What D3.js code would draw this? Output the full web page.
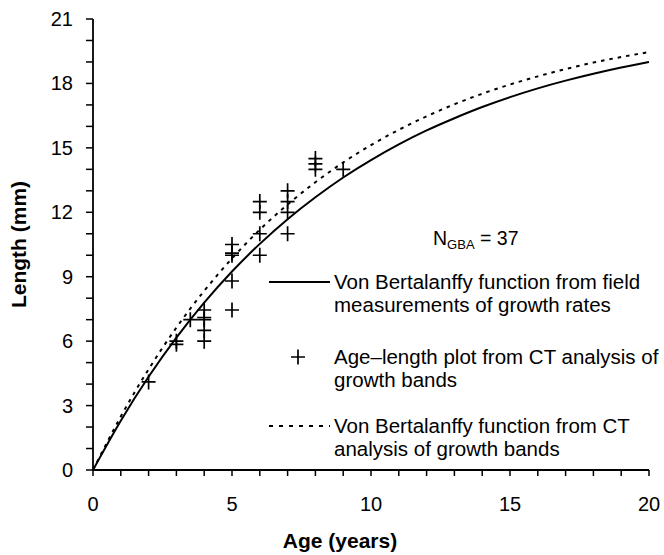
<!DOCTYPE html>
<html>
<head>
<meta charset="utf-8">
<script src="https://cdn.jsdelivr.net/npm/d3@7"></script>
<style>
  html, body { margin: 0; padding: 0; background: #fff; }
  svg { display: block; font-family: "Liberation Sans", Arial, sans-serif; }
</style>
</head>
<body>
<svg id="chart" width="664" height="555"></svg>
<script>
// ---- data ----
const ageGrid = [0,1,2,3,4,5,6,7,8,9,10,11,12,13,14,15,16,17,18,19,20];
const fieldCurve = [0,2.29,4.34,6.16,7.79,9.24,10.53,11.68,12.70,13.62,14.43,15.16,15.81,16.38,16.90,17.36,17.77,18.13,18.45,18.74,19.00];
const ctCurve = [0,2.49,4.69,6.63,8.34,9.85,11.19,12.36,13.40,14.32,15.13,15.84,16.47,17.03,17.52,17.95,18.33,18.67,18.97,19.23,19.46];
const obsAge = [2, 3, 3, 3.5, 4, 4, 4, 4, 4, 5, 5, 5, 5, 5, 6, 6, 6, 6, 7, 7, 7, 7, 8, 8, 8, 9];
const obsLength = [4.1, 5.85, 6.0, 7.0, 7.45, 7.0, 7.1, 6.5, 6.0, 10.5, 10.0, 10.1, 8.8, 7.45, 12.5, 12.0, 11.0, 10.0, 13.0, 12.5, 12.0, 11.0, 14.5, 14.25, 14.0, 14.0];
const xTicks = [0, 5, 10, 15, 20];
const yTicks = [0, 3, 6, 9, 12, 15, 18, 21];
const legendLabels = [
  ["Von Bertalanffy function from field", "measurements of growth rates"],
  ["Age\u2013length plot from CT analysis of", "growth bands"],
  ["Von Bertalanffy function from CT", "analysis of growth bands"]
];
const xTitle = "Age (years)";
const yTitle = "Length (mm)";

// ---- layout ----
const svg = d3.select("#chart");
const x = d3.scaleLinear().domain([0, 20]).range([93, 649]);
const y = d3.scaleLinear().domain([0, 21]).range([470, 19]);

const axisColor = "#000";

// X axis
const gx = svg.append("g").attr("transform", `translate(0,${y(0)})`);
gx.append("line").attr("x1", x(0)).attr("x2", x(20)).attr("stroke", axisColor).attr("stroke-width", 1.8);
gx.selectAll("line.tk").data(d3.range(0, 21, 1)).join("line")
  .attr("class", "tk")
  .attr("x1", d => x(d)).attr("x2", d => x(d))
  .attr("y1", 0).attr("y2", 6)
  .attr("stroke", axisColor).attr("stroke-width", 1.5);
gx.selectAll("text").data(xTicks).join("text")
  .attr("x", d => x(d)).attr("y", 41)
  .attr("text-anchor", "middle")
  .attr("font-size", 20)
  .text(d => d);

// Y axis
const gy = svg.append("g").attr("transform", `translate(${x(0)},0)`);
gy.append("line").attr("y1", y(0)).attr("y2", y(21)).attr("stroke", axisColor).attr("stroke-width", 1.8);
gy.selectAll("line.tk").data(d3.range(0, 22, 1)).join("line")
  .attr("class", "tk")
  .attr("y1", d => y(d)).attr("y2", d => y(d))
  .attr("x1", 0).attr("x2", -7)
  .attr("stroke", axisColor).attr("stroke-width", 1.5);
gy.selectAll("text").data(yTicks).join("text")
  .attr("x", -20).attr("y", d => y(d))
  .attr("dy", "0.35em")
  .attr("text-anchor", "end")
  .attr("font-size", 20)
  .text(d => d);

// Titles
svg.append("text")
  .attr("x", 340).attr("y", 548)
  .attr("text-anchor", "middle")
  .attr("font-size", 21).attr("font-weight", "bold")
  .text(xTitle);
svg.append("text")
  .attr("transform", `translate(26,${(y(0) + y(21)) / 2}) rotate(-90)`)
  .attr("text-anchor", "middle")
  .attr("font-size", 21).attr("font-weight", "bold")
  .text(yTitle);

// Curves
const line = d3.line().curve(d3.curveNatural);
const fieldPts = ageGrid.map((a, i) => [x(a), y(fieldCurve[i])]);
const ctPts = ageGrid.map((a, i) => [x(a), y(ctCurve[i])]);
svg.append("path").attr("d", line(ctPts))
  .attr("fill", "none").attr("stroke", "#000").attr("stroke-width", 2)
  .attr("stroke-dasharray", "3.5,5");
svg.append("path").attr("d", line(fieldPts))
  .attr("fill", "none").attr("stroke", "#000").attr("stroke-width", 2);

// Crosses
const cross = "M-7,0H7M0,-7.5V7.5";
svg.append("g").selectAll("path").data(obsAge.map((a, i) => [a, obsLength[i]])).join("path")
  .attr("transform", d => `translate(${x(d[0])},${y(d[1])})`)
  .attr("d", cross)
  .attr("fill", "none").attr("stroke", "#000").attr("stroke-width", 1.7);

// Sample size annotation
const ann = svg.append("text").attr("x", 433).attr("y", 245).attr("font-size", 19.5);
ann.append("tspan").text("N");
ann.append("tspan").attr("font-size", 13).attr("dy", 4).text("GBA");
ann.append("tspan").attr("dy", -4).text(" = 37");

// Legend
const legY = [282, 357, 426];
const lg = svg.append("g");
lg.append("line").attr("x1", 269).attr("x2", 330).attr("y1", legY[0]).attr("y2", legY[0])
  .attr("stroke", "#000").attr("stroke-width", 2);
lg.append("path").attr("d", cross).attr("transform", `translate(298,${legY[1]})`)
  .attr("fill", "none").attr("stroke", "#000").attr("stroke-width", 1.7);
lg.append("line").attr("x1", 269).attr("x2", 330).attr("y1", legY[2]).attr("y2", legY[2])
  .attr("stroke", "#000").attr("stroke-width", 2).attr("stroke-dasharray", "4,6");
legendLabels.forEach((lines, i) => {
  lines.forEach((t, j) => {
    lg.append("text")
      .attr("x", 334).attr("y", legY[i] + j * 23)
      .attr("dy", "0.35em")
      .attr("font-size", 20.5)
      .text(t);
  });
});
</script>
</body>
</html>
